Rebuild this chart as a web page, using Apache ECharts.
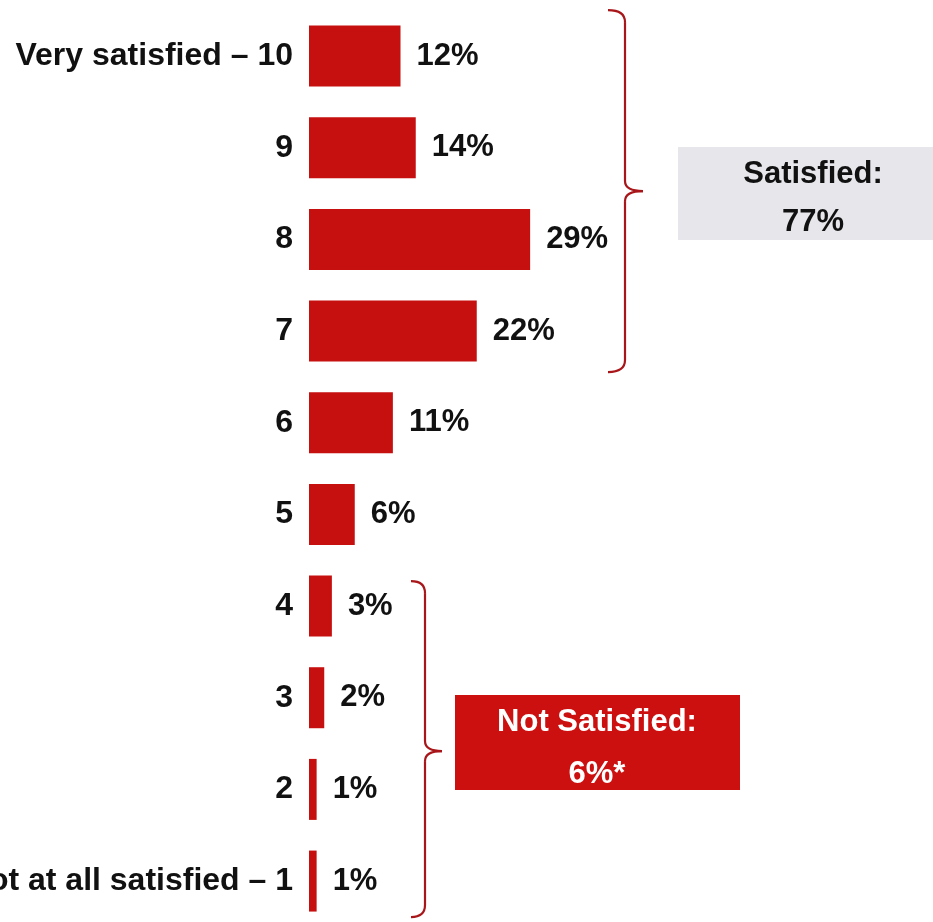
<!DOCTYPE html>
<html>
<head>
<meta charset="utf-8">
<script src="https://cdn.jsdelivr.net/npm/echarts@6/dist/echarts.min.js"></script>
<style>
html,body{margin:0;padding:0;background:#fff;}
#chart{width:933px;height:922px;}
</style>
</head>
<body>
<div id="chart"></div>
<script>
var categories = ['Very satisfied \u2013 10', '9', '8', '7', '6', '5', '4', '3', '2', 'Not at all satisfied \u2013 1'];
var values = [12, 14, 29, 22, 11, 6, 3, 2, 1, 1];
var satisfiedLabel = ['Satisfied:', '77%'];
var notSatisfiedLabel = ['Not Satisfied:', '6%*'];

var FONT = '"Liberation Sans", Arial, Helvetica, sans-serif';
var chart = echarts.init(document.getElementById('chart'), null, {renderer: 'canvas'});

chart.setOption({
  animation: false,
  backgroundColor: '#ffffff',
  grid: {left: 309, top: 10.2, width: 305, height: 916.7, containLabel: false, outerBoundsMode: 'none'},
  xAxis: {type: 'value', min: 0, max: 40, show: false},
  yAxis: {
    type: 'category', data: categories, inverse: true,
    axisLine: {show: false}, axisTick: {show: false}, splitLine: {show: false},
    axisLabel: {
      margin: 16, fontSize: 32, fontWeight: 'bold', color: '#111111',
      fontFamily: FONT, padding: [16, 0, 0, 0]
    }
  },
  series: [{
    type: 'bar', data: values, barWidth: 61,
    itemStyle: {color: '#c60f0f'},
    label: {
      show: true, position: 'right', distance: 16,
      formatter: '{c}%', fontSize: 31, fontWeight: 'bold', color: '#111111',
      fontFamily: FONT, padding: [9, 0, 0, 0]
    }
  }]
});

function px(cat) { return chart.convertToPixel({yAxisIndex: 0}, cat); }
var BRACE_STYLE = {stroke: '#a8161a', lineWidth: 2.2, fill: null};
function brace(xEnd, xLine, xTip, yTop, yBot, yMid) {
  var r = 12;
  return {
    type: 'group',
    children: [
      {type: 'bezierCurve', shape: {x1: xEnd, y1: yTop, x2: xLine, y2: yTop + r, cpx1: xLine, cpy1: yTop}, style: BRACE_STYLE},
      {type: 'line', shape: {x1: xLine, y1: yTop + r, x2: xLine, y2: yMid - 10}, style: BRACE_STYLE},
      {type: 'bezierCurve', shape: {x1: xLine, y1: yMid - 10, x2: xTip, y2: yMid, cpx1: xLine, cpy1: yMid}, style: BRACE_STYLE},
      {type: 'bezierCurve', shape: {x1: xTip, y1: yMid, x2: xLine, y2: yMid + 10, cpx1: xLine, cpy1: yMid}, style: BRACE_STYLE},
      {type: 'line', shape: {x1: xLine, y1: yMid + 10, x2: xLine, y2: yBot - r}, style: BRACE_STYLE},
      {type: 'bezierCurve', shape: {x1: xLine, y1: yBot - r, x2: xEnd, y2: yBot, cpx1: xLine, cpy1: yBot}, style: BRACE_STYLE}
    ]
  };
}

var y10 = px(categories[0]), y7 = px(categories[3]);
var y4 = px(categories[6]), y1 = px(categories[9]);
var t1 = y10 - 46, b1 = y7 + 41, m1 = (t1 + b1) / 2;
var t2 = y4 - 25, b2 = y1 + 36, m2 = (t2 + b2) / 2 + 2;

chart.setOption({
  graphic: [
    brace(608, 625, 643, t1, b1, m1),
    brace(411, 425, 442, t2, b2, m2),
    {type: 'rect', shape: {x: 678, y: m1 - 44, width: 270, height: 93},
     style: {fill: '#e6e6eb'}},
    {type: 'text', x: 813, y: m1 - 17,
     style: {text: satisfiedLabel[0], fill: '#111111', font: 'bold 31px ' + FONT, align: 'center', verticalAlign: 'middle'}},
    {type: 'text', x: 813, y: m1 + 31,
     style: {text: satisfiedLabel[1], fill: '#111111', font: 'bold 31px ' + FONT, align: 'center', verticalAlign: 'middle'}},
    {type: 'rect', shape: {x: 455, y: m2 - 56, width: 285, height: 95},
     style: {fill: '#cc0f0f'}},
    {type: 'text', x: 597, y: m2 - 29,
     style: {text: notSatisfiedLabel[0], fill: '#ffffff', font: 'bold 31px ' + FONT, align: 'center', verticalAlign: 'middle'}},
    {type: 'text', x: 597, y: m2 + 23,
     style: {text: notSatisfiedLabel[1], fill: '#ffffff', font: 'bold 31px ' + FONT, align: 'center', verticalAlign: 'middle'}}
  ]
});
</script>
</body>
</html>
